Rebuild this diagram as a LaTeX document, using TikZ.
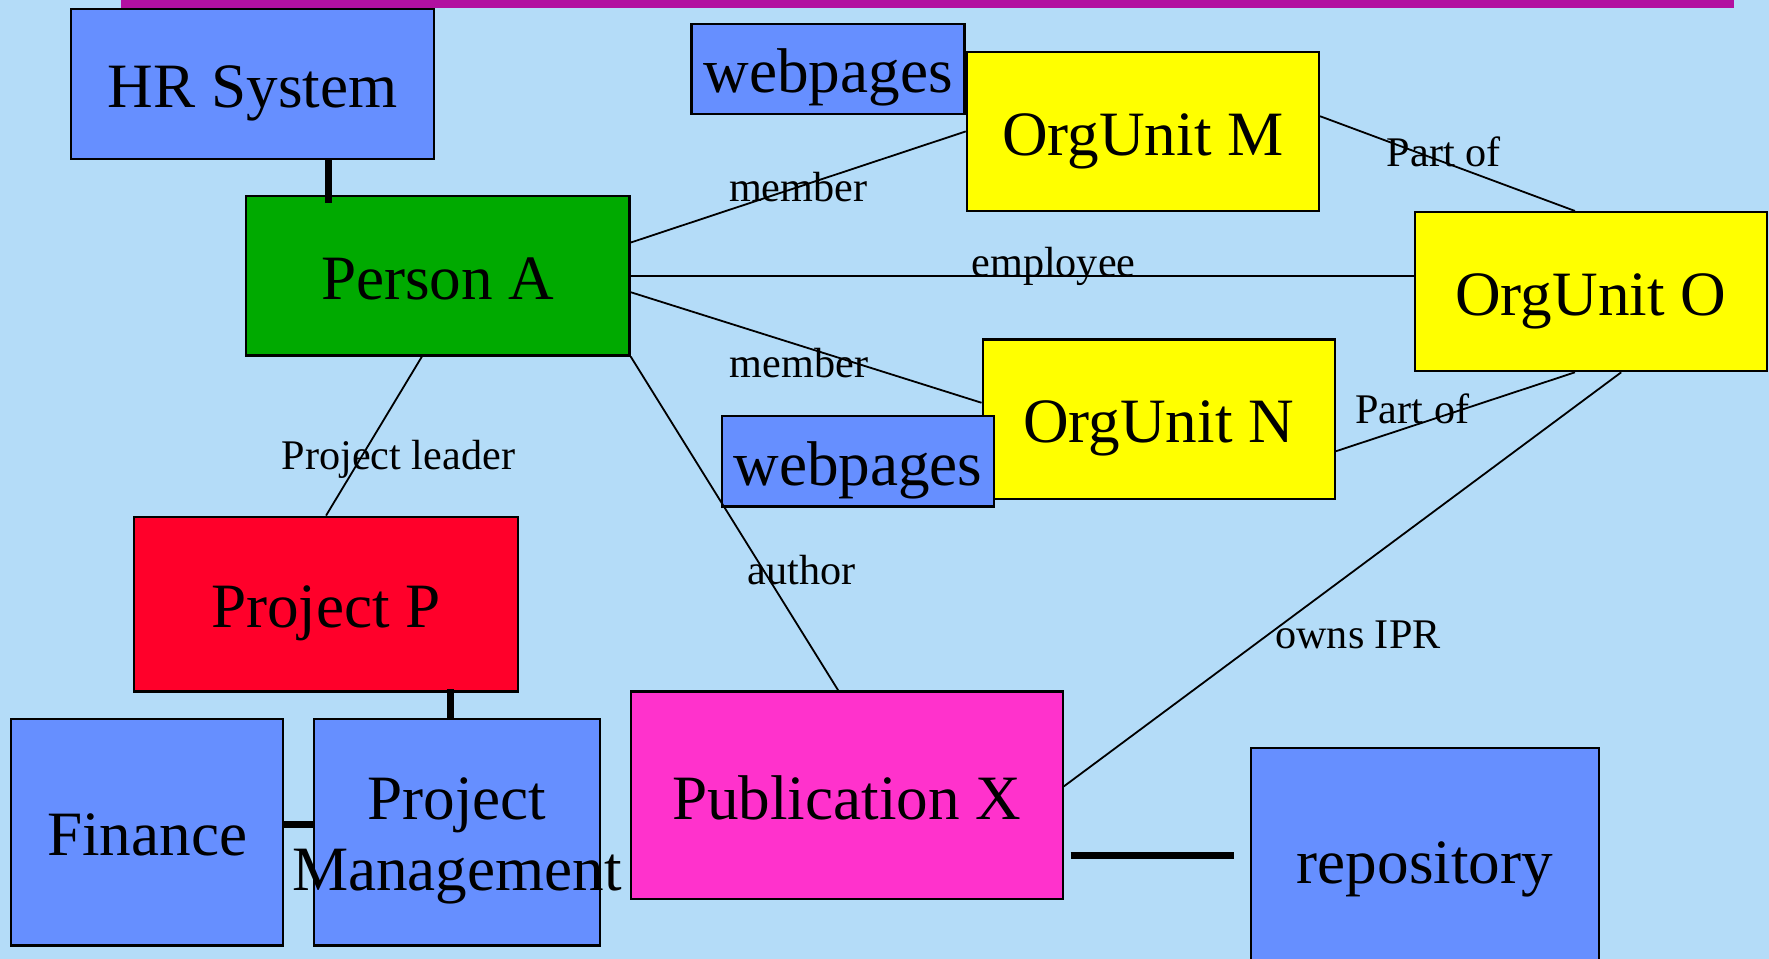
\documentclass[tikz,border=0pt]{standalone}
\usepackage{fontspec}
\setmainfont{Liberation Serif}
\usetikzlibrary{calc}
\definecolor{skyback}{RGB}{180,220,248}
\definecolor{barpurple}{RGB}{178,16,160}
\definecolor{sysblue}{RGB}{102,143,255}
\definecolor{persgreen}{RGB}{0,170,0}
\definecolor{unityellow}{RGB}{255,255,0}
\definecolor{projred}{RGB}{255,0,42}
\definecolor{pubpink}{RGB}{255,50,204}
\begin{document}
\begin{tikzpicture}[x=0.5pt, y=-0.5pt,
  entity/.style={draw, line width=1pt, inner sep=0pt, align=center, text height=26.6pt, text depth=5.6pt, font=\fontsize{28}{31.5}\selectfont},
  link/.style={line width=0.8pt},
  tie/.style={line width=3pt},
  lbl/.style={inner sep=0pt, font=\fontsize{18.7}{22}\selectfont}]
\clip (0,0) rectangle (1568,850);
\fill[skyback] (0,0) rectangle (1568,850);
\fill[barpurple] (107,0) rectangle (1537,7);
% boxes
\node[entity, fill=sysblue, minimum width=161pt, minimum height=66.5pt] (hr) at (224,74.5) {HR System};
\node[entity, fill=sysblue, minimum width=121pt, minimum height=40pt] (web1) at (734,61) {webpages};
\node[entity, fill=unityellow, minimum width=156pt, minimum height=70.5pt] (orgM) at (1013,116.5) {OrgUnit M};
\node[entity, fill=persgreen, minimum width=170pt, minimum height=70.5pt] (persA) at (388,244.5) {Person A};
\node[entity, fill=unityellow, minimum width=156pt, minimum height=70.5pt] (orgO) at (1410,258.5) {OrgUnit O};
\node[entity, fill=unityellow, minimum width=156pt, minimum height=70.5pt] (orgN) at (1027,371.5) {OrgUnit N};
\node[entity, fill=sysblue, minimum width=120.5pt, minimum height=40pt] (web2) at (760.5,409) {webpages};
\node[entity, fill=projred, minimum width=170pt, minimum height=77.5pt] (projP) at (289,535.5) {Project P};
\node[entity, fill=sysblue, minimum width=120.5pt, minimum height=100.5pt] (fin) at (130.5,737.5) {Finance};
\node[entity, fill=sysblue, minimum width=127pt, minimum height=100.5pt, text height={}, text depth={}] (pm) at (405,737.5) {\rule{0pt}{26pt}Project\\\makebox[0pt]{Management}};
\node[entity, fill=pubpink, minimum width=191.5pt, minimum height=92pt] (pub) at (750.5,705) {Publication X};
\node[entity, fill=sysblue, minimum width=154pt, minimum height=99pt] (repo) at (1263,762) {repository};
% relations
\draw[link] ($(persA.east)+(0,-29.5)$) -- node[lbl, midway] {member} (orgM.west);
\draw[link] (persA.east) -- node[lbl, pos=0.54, yshift=4.3pt] {employee} (persA.east -| orgO.west);
\draw[link] ($(persA.east)+(0,14.5)$) -- node[lbl, pos=0.48, yshift=-7.8pt] {member} ($(orgN.west)+(0,-14.5)$);
\draw[link] ($(orgM.east)+(0,-13.5)$) -- node[lbl, pos=0.485, yshift=4.6pt] {Part of} ($(orgO.north)+(-14,0)$);
\draw[link] ($(orgN.east)+(0,28.5)$) -- node[lbl, pos=0.32, yshift=7.6pt] {Part of} ($(orgO.south)+(-14,0)$);
\draw[link] ($(persA.south)+(-14,0)$) -- node[lbl, pos=0.645, xshift=17pt] {Project leader} (projP.north);
\draw[link] (persA.south east) -- node[lbl, pos=0.638, xshift=17pt] {author} ($(pub.north)+(-7.5,0)$);
\draw[link] ($(orgO.south)+(27,0)$) -- node[lbl, pos=0.633, xshift=39.7pt] {owns IPR} ($(pub.east)+(0,-8)$);
% system links
\draw[tie] ($(hr.south)+(67,0)$) -- ($(persA.north)+(-97,7)$);
\draw[tie] ($(projP.south)+(110,-3)$) -- ($(pm.north)+(-6,0)$);
\draw[tie] ($(fin.east)+(0,-6.5)$) -- ($(pm.west)+(0,-6.5)$);
\draw[tie] ($(pub.east)+(6,53)$) -- ($(repo.west)+(-14,-4)$);
\end{tikzpicture}
\end{document}
